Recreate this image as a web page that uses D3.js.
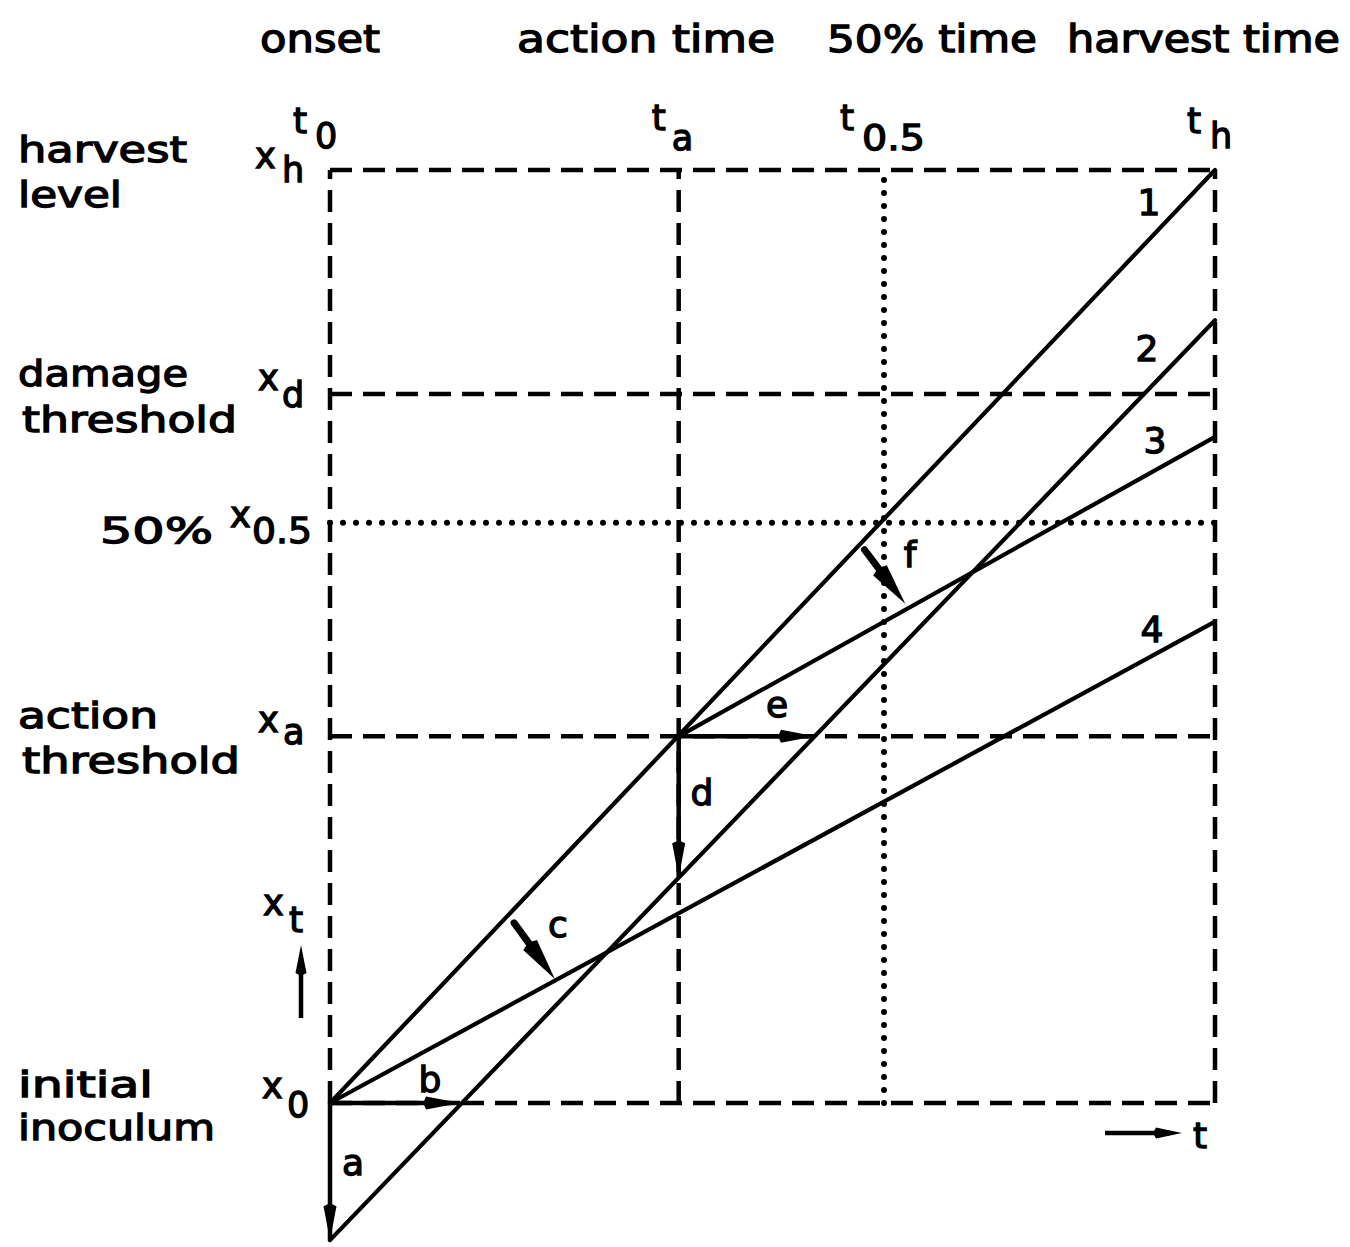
<!DOCTYPE html>
<html><head><meta charset="utf-8">
<script src="https://cdn.jsdelivr.net/npm/d3@7"></script>
<style>
html,body{margin:0;padding:0;background:#fff;}
svg text{font-family:"DejaVu Sans",sans-serif;fill:#000;stroke:#000;stroke-width:1.3px;}
</style></head>
<body>
<svg id="c" width="1350" height="1247"></svg>
<script>
// ---- data ----
const topLabels = ["onset", "action time", "50% time", "harvest time"];
const timeSymbols = ["0", "a", "0.5", "h"];        // subscripts of t
const timeValues  = [0, 0.394, 0.626, 1];           // t0, ta, t0.5, th
const levelSymbols = ["h", "d", "0.5", "a", "0"];   // subscripts of x
const levelValues  = [1, 0.760, 0.622, 0.393, 0];   // xh, xd, x0.5, xa, x0
const levelNames   = [["harvest", "level"], ["damage", "threshold"], ["50%"], ["action", "threshold"], ["initial", "inoculum"]];
const curveNames = ["1", "2", "3", "4"];
const curve1 = [[0, 0], [1, 1]];
const curve2 = [[0, -0.147], [1, 0.839]];
const curve3 = [[0.394, 0.393], [1, 0.714]];
const curve4 = [[0, 0], [1, 0.516]];
const arrowNames = ["a", "b", "c", "d", "e", "f"];
const arrowA = [[0, 0], [0, -0.147]];
const arrowB = [[0, 0], [0.147, 0]];
const arrowC = [[0.208, 0.193], [0.254, 0.133]];
const arrowD = [[0.394, 0.393], [0.394, 0.242]];
const arrowE = [[0.394, 0.393], [0.548, 0.393]];
const arrowF = [[0.604, 0.593], [0.650, 0.535]];

// ---- scales ----
const svg = d3.select("#c");
const x = d3.scaleLinear().domain([0, 1]).range([330, 1215]);
const y = d3.scaleLinear().domain([0, 1]).range([1103, 170]);
const line = d3.line().x(d => x(d[0])).y(d => y(d[1]));

// ---- grid (dashed / dotted) ----
const dash = "22 11", dot = "0 13";
const dashedTimes = [timeValues[0], timeValues[1], timeValues[3]];
const dashedLevels = [levelValues[0], levelValues[1], levelValues[3], levelValues[4]];
const g = svg.append("g").attr("fill", "none").attr("stroke", "#000");
dashedLevels.forEach(v => g.append("path").attr("d", line([[0, v], [1, v]]))
  .attr("stroke-width", 4.5).attr("stroke-dasharray", dash));
dashedTimes.forEach(v => g.append("path").attr("d", line([[v, 0], [v, 1]]))
  .attr("stroke-width", 4.5).attr("stroke-dasharray", dash));
g.append("path").attr("d", line([[timeValues[2], 0], [timeValues[2], 1]]))
  .attr("stroke-width", 6).attr("stroke-linecap", "round").attr("stroke-dasharray", dot);
g.append("path").attr("d", line([[0, levelValues[2]], [1, levelValues[2]]]))
  .attr("stroke-width", 6).attr("stroke-linecap", "round").attr("stroke-dasharray", dot);

// ---- curves ----
[curve1, curve2, curve3, curve4].forEach(c => g.append("path").attr("d", line(c))
  .attr("stroke-width", 4.2).attr("stroke-linecap", "round"));

// ---- arrows ----
function arrowHead(p, q, L, w) {
  const dx = q[0] - p[0], dy = q[1] - p[1], n = Math.hypot(dx, dy);
  const ux = dx / n, uy = dy / n, px = -uy, py = ux;
  const bx = q[0] - ux * L, by = q[1] - uy * L;
  return `M${q[0]},${q[1]}L${bx + px * w},${by + py * w}L${bx - ux * 3},${by - uy * 3}L${bx - px * w},${by - py * w}Z`;
}
[arrowA, arrowB, arrowD, arrowE].forEach(a => {
  const p = [x(a[0][0]), y(a[0][1])], q = [x(a[1][0]), y(a[1][1])];
  g.append("path").attr("d", `M${p}L${q}`).attr("stroke-width", 4.5);
  svg.append("path").attr("d", arrowHead(p, q, 34, 6.5)).attr("fill", "#000");
});
[arrowC, arrowF].forEach(a => {
  const p = [x(a[0][0]), y(a[0][1])], q = [x(a[1][0]), y(a[1][1])];
  const mid = [p[0] + (q[0] - p[0]) * 0.5, p[1] + (q[1] - p[1]) * 0.5];
  g.append("path").attr("d", `M${p}L${mid}`).attr("stroke-width", 7).attr("stroke-linecap", "round");
  svg.append("path").attr("d", arrowHead(p, q, 42, 8.5)).attr("fill", "#000");
});

// ---- text helpers ----
function txt(s, px, py, size, opts = {}) {
  const t = svg.append("text").attr("x", px).attr("y", py).attr("font-size", size).text(s);
  if (opts.len) t.attr("textLength", opts.len).attr("lengthAdjust", "spacingAndGlyphs");
  if (opts.anchor) t.attr("text-anchor", opts.anchor);
  return t;
}

// top labels
const topX = [[260, 120], [517, 258], [827, 210], [1067, 273]];
topLabels.forEach((s, i) => txt(s, topX[i][0], 52, 37, {len: topX[i][1]}));

// time symbols t_sub
const tOff = [[-37, 133, -15, 148, 25], [-27, 130, -7, 150, 18], [-44, 130, -22, 150, 63], [-28, 133, -5, 148, 20]];
timeValues.forEach((v, i) => {
  const o = tOff[i];
  txt("t", x(v) + o[0], o[1], 36);
  txt(timeSymbols[i], x(v) + o[2], o[3], 35, timeSymbols[i].length > 1 ? {len: o[4]} : {});
});

// level symbols x_sub
const xOff = [[-75, -2, -48, 12, 0], [-72, -4, -48, 13, 0], [-100, 4, -78, 20, 60], [-72, -4, -47, 8, 0], [-68, -5, -43, 14, 0]];
levelValues.forEach((v, i) => {
  const o = xOff[i];
  txt("x", x(0) + o[0], y(v) + o[1], 35);
  txt(levelSymbols[i], x(0) + o[2], y(v) + o[3], 35, levelSymbols[i].length > 1 ? {len: o[4]} : {});
});

// level names (left)
const nameLay = [[[18, -8, 169], [18, 37, 104]], [[18, -8, 170], [22, 38, 215]], [[100, 20, 113]], [[18, -8, 140], [22, 37, 218]], [[18, -6, 135], [18, 37, 197]]];
levelValues.forEach((v, i) => levelNames[i].forEach((s, j) => {
  const o = nameLay[i][j];
  txt(s, o[0], y(v) + o[1], 36, {len: o[2]});
}));

// x_t with upward arrow
txt("x", 263, 915, 35);
txt("t", 289, 932, 36);
g.append("path").attr("d", "M301,1018L301,960").attr("stroke-width", 4.5);
svg.append("path").attr("d", arrowHead([301, 1018], [301, 945], 28, 5.5)).attr("fill", "#000");

// → t
g.append("path").attr("d", "M1105,1133L1170,1133").attr("stroke-width", 4.5);
svg.append("path").attr("d", arrowHead([1105, 1133], [1182, 1133], 26, 5.5)).attr("fill", "#000");
txt("t", 1193, 1148, 36);

// curve numbers
const numPos = [[1149, 215], [1147, 361], [1155, 453], [1152, 642]];
curveNames.forEach((s, i) => txt(s, numPos[i][0], numPos[i][1], 36, {anchor: "middle"}));

// arrow letters
const letPos = [[353, 1175], [430, 1092], [558, 937], [702, 805], [777, 717], [910, 567]];
arrowNames.forEach((s, i) => txt(s, letPos[i][0], letPos[i][1], 36, {anchor: "middle"}));
</script>
</body></html>
